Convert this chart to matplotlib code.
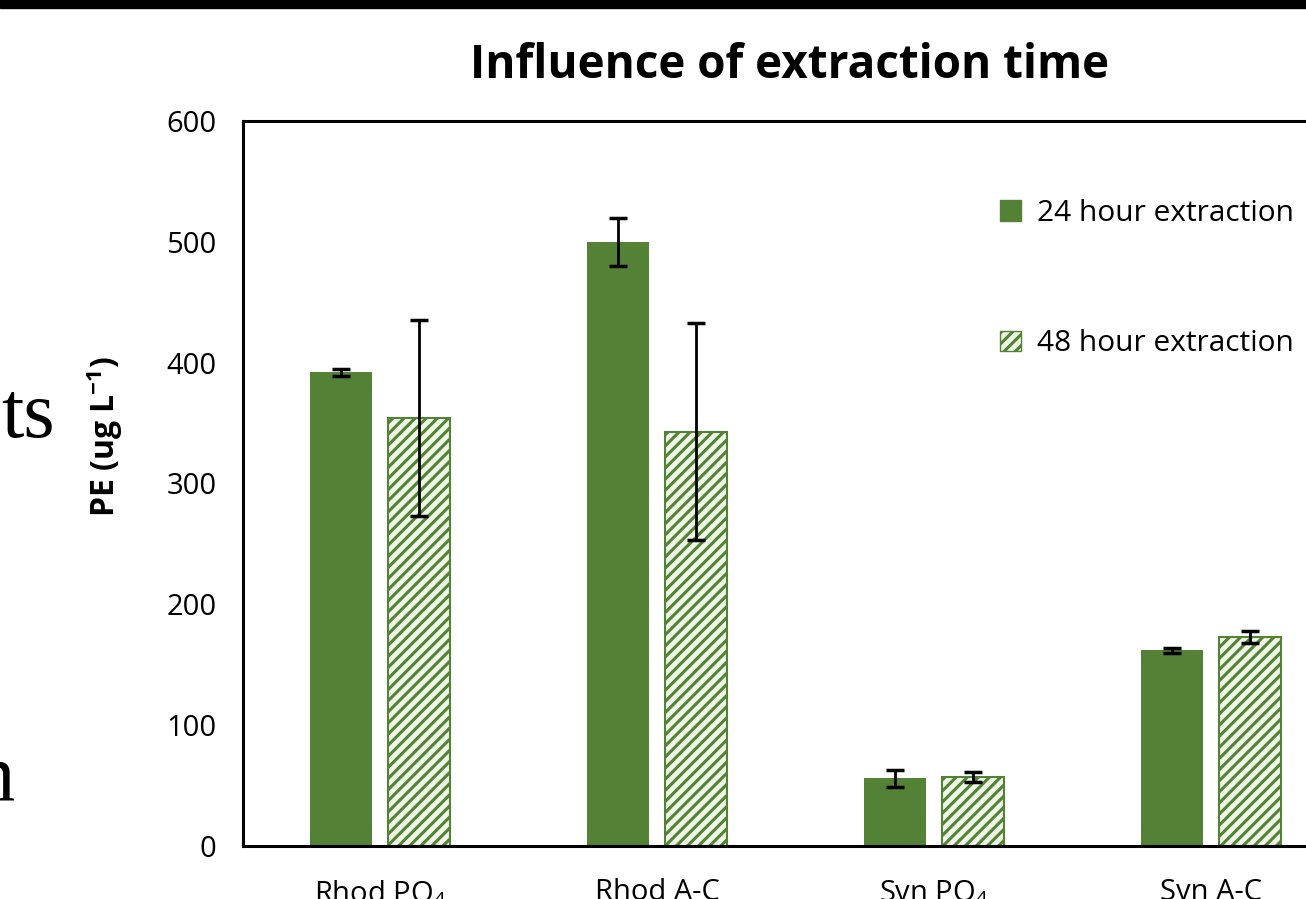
import matplotlib
matplotlib.use("Agg")
import matplotlib.pyplot as plt
import numpy as np
from matplotlib.patches import Patch, Rectangle

groups = ["Rhod PO$_{\\mathrm{4}}$", "Rhod A-C", "Syn PO$_{\\mathrm{4}}$", "Syn A-C"]
pe_24h = [392, 500, 56, 162]
err_24h = [3, 20, 7, 2]
pe_48h = [354, 343, 57, 173]
err_48h = [81, 90, 4, 5]
series_labels = ["24 hour extraction", "48 hour extraction"]

green = "#538135"
light = "#eef6e6"

plt.rcParams["font.family"] = ["Open Sans", "DejaVu Sans"]
plt.rcParams["mathtext.fontset"] = "custom"
plt.rcParams["mathtext.rm"] = "Open Sans"
plt.rcParams["mathtext.bf"] = "Open Sans:bold"
plt.rcParams["hatch.linewidth"] = 2.2
plt.rcParams["hatch.color"] = green

W, H = 1306, 899
fig = plt.figure(figsize=(W / 100, H / 100), dpi=100)
ax = fig.add_axes([243 / W, 1 - 846 / H, (1349.5 - 243) / W, (846 - 121) / H])

x = np.arange(len(groups))
off = 0.141
width = 0.224
ebar = dict(ecolor="black", elinewidth=2, capsize=6.5, capthick=2.5)
ax.bar(x - off, pe_24h, width, color=green, yerr=err_24h, error_kw=ebar)
ax.bar(x + off, pe_48h, width, facecolor=light, edgecolor=green, linewidth=1.5,
       hatch="///", yerr=err_48h, error_kw=ebar)

ax.set_xlim(-0.495, 3.5)
ax.set_ylim(0, 600)
ax.set_yticks(range(0, 601, 100))
ax.set_xticks(x)
ax.set_xticklabels(groups)
ax.tick_params(axis="both", length=0, labelsize=21)
ax.tick_params(axis="y", pad=19)
ax.tick_params(axis="x", pad=23)
for s in ax.spines.values():
    s.set_linewidth(2.2)

handles = [Patch(facecolor=green, edgecolor=green),
           Patch(facecolor=light, edgecolor=green, hatch="///")]
ax.legend(handles, series_labels, loc="upper left", bbox_to_anchor=(985 / W, 1 - 184 / H),
          bbox_transform=fig.transFigure, frameon=False, fontsize=21.5,
          handlelength=0.7, handleheight=0.7, handletextpad=0.55, labelspacing=3.4,
          borderpad=0)

fig.text(790 / W, 1 - 65 / H, "Influence of extraction time", ha="center", va="center",
         fontsize=33, fontweight="bold")
fig.text(105 / W, 1 - 437 / H, "PE (ug L$^{\\mathbf{-1}}$)", rotation=90, ha="center",
         va="center", fontsize=23, fontweight="bold")

# bits of the slide text showing at the left edge
fig.text(55 / W, 1 - 437 / H, "ts", ha="right", va="baseline", fontsize=58,
         family="Liberation Serif")
fig.text(14 / W, 1 - 800 / H, "n", ha="right", va="baseline", fontsize=58,
         family="Liberation Serif")
fig.patches.append(Rectangle((0, 1 - 8 / H), 1, 8 / H, transform=fig.transFigure,
                             color="black", zorder=5))

fig.savefig("out.png", dpi=100)
